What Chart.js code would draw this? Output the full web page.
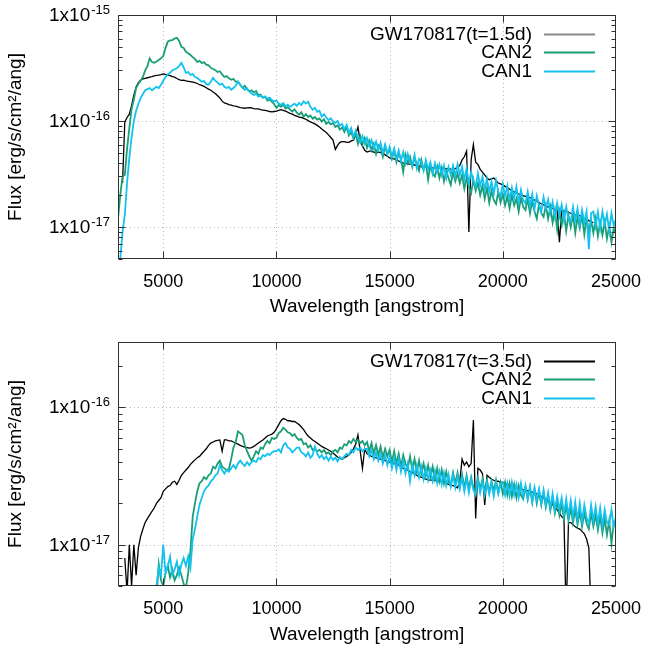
<!DOCTYPE html>
<html>
<head>
<meta charset="utf-8">
<script src="https://cdn.jsdelivr.net/npm/chart.js@4.4.1/dist/chart.umd.min.js"></script>
<style>
  html, body { margin: 0; padding: 0; background: #fff; }
  canvas { display: block; }
</style>
</head>
<body>
<canvas id="topChart" width="647" height="324"></canvas>
<canvas id="bottomChart" width="647" height="324"></canvas>
<script>
// wavelength grid [angstrom], shared by every spectrum (one row = 1000 A)
const wavelength = [
  3000, 3100, 3200, 3300, 3400, 3500, 3600, 3700, 3800, 3900,
  4000, 4100, 4200, 4300, 4400, 4500, 4600, 4700, 4800, 4900,
  5000, 5100, 5200, 5300, 5400, 5500, 5600, 5700, 5800, 5900,
  6000, 6100, 6200, 6300, 6400, 6500, 6600, 6700, 6800, 6900,
  7000, 7100, 7200, 7300, 7400, 7500, 7600, 7700, 7800, 7900,
  8000, 8100, 8200, 8300, 8400, 8500, 8600, 8700, 8800, 8900,
  9000, 9100, 9200, 9300, 9400, 9500, 9600, 9700, 9800, 9900,
  10000, 10100, 10200, 10300, 10400, 10500, 10600, 10700, 10800, 10900,
  11000, 11100, 11200, 11300, 11400, 11500, 11600, 11700, 11800, 11900,
  12000, 12100, 12200, 12300, 12400, 12500, 12600, 12700, 12800, 12900,
  13000, 13100, 13200, 13300, 13400, 13500, 13600, 13700, 13800, 13900,
  14000, 14100, 14200, 14300, 14400, 14500, 14600, 14700, 14800, 14900,
  15000, 15100, 15200, 15300, 15400, 15500, 15600, 15700, 15800, 15900,
  16000, 16100, 16200, 16300, 16400, 16500, 16600, 16700, 16800, 16900,
  17000, 17100, 17200, 17300, 17400, 17500, 17600, 17700, 17800, 17900,
  18000, 18100, 18200, 18300, 18400, 18500, 18600, 18700, 18800, 18900,
  19000, 19100, 19200, 19300, 19400, 19500, 19600, 19700, 19800, 19900,
  20000, 20100, 20200, 20300, 20400, 20500, 20600, 20700, 20800, 20900,
  21000, 21100, 21200, 21300, 21400, 21500, 21600, 21700, 21800, 21900,
  22000, 22100, 22200, 22300, 22400, 22500, 22600, 22700, 22800, 22900,
  23000, 23100, 23200, 23300, 23400, 23500, 23600, 23700, 23800, 23900,
  24000, 24100, 24200, 24300, 24400, 24500, 24600, 24700, 24800, 24900,
  25000
];

// flux in units of 1e-17 erg/s/cm^2/ang
// upper panel, t = 1.5 d
const gw15 = [
  null, null, 2.6, 9.8, 10.8, 11.6, 14, 17.5, 21, 23,
  24.3, 25, 25.3, 25.6, 25.9, 26.2, 26.6, 26.9, 27.1, 27.4,
  27.8, 27.5, 27.3, 26.8, 26.2, 25.9, 25.2, 24.6, 24.2, 24.3,
  23.9, 23.7, 23.5, 23.3, 23.0, 22.6, 22.0, 21.7, 21.2, 20.6,
  20.0, 19.5, 18.8, 18.2, 17.3, 16.5, 15.4, 14.8, 14.6, 14.3,
  14.1, 13.9, 13.8, 13.6, 13.4, 13.3, 13.2, 13.3, 13.4, 13.3,
  13.1, 13.0, 13.0, 12.8, 12.7, 12.6, 12.5, 12.3, 12.2, 12.3,
  12.4, 12.6, 12.8, 12.6, 12.4, 12.1, 11.8, 11.6, 11.3, 11.1,
  10.9, 10.8, 10.6, 10.4, 10.1, 9.8, 9.6, 9.4, 9.1, 8.8,
  8.4, 8.1, 7.8, 7.4, 7.0, 6.6, 5.4, 5.9, 6.3, 6.4,
  6.4, 6.3, 6.3, 6.5, 6.6, 7.4, 8.8, 6.4, 5.8, 5.3,
  5.1, 5.2, 5.2, 5.1, 5.0, 5.1, 5.05, 4.95, 4.8, 4.65,
  4.5, 4.45, 4.4, 4.3, 4.2, 4.1, 4.0, 3.98, 3.95, 3.92,
  3.9, 3.85, 3.8, 3.75, 3.7, 3.72, 3.72, 3.68, 3.65, 3.62,
  3.6, 3.62, 3.62, 3.6, 3.58, 3.56, 3.55, 3.52, 3.5, 3.55,
  3.7, 3.8, 4.3, 4.6, 5.2, 0.9, 4.3, 6.0, 4.1, 3.9,
  3.5, 3.3, 3.1, 2.9, 2.8, 2.85, 2.9, 2.75, 2.6, 2.55,
  2.5, 2.42, 2.35, 2.28, 2.2, 2.15, 2.1, 2.05, 2.0, 1.98,
  1.95, 1.92, 1.9, 1.85, 1.8, 1.75, 1.7, 1.66, 1.62, 1.58,
  1.55, 1.52, 1.5, 1.47, 1.45, 0.72, 1.44, 1.42, 1.4, 1.38,
  1.35, 1.33, 1.3, 1.29, 1.28, 1.24, 1.2, 1.18, 1.15, 1.12,
  1.1, null, null, null, null, null, null, null, null, null,
  null
];
const can2Early = [
  1.2, 2.0, 3.0, 3.1, 5.5, 8.5, 13, 16, 20.5, 22.5,
  24, 26, 30, 33, 39, 36, 35.4, 36.5, 37.7, 39,
  41, 49, 56, 57.5, 58, 60, 61, 57, 50, 48.9,
  45, 43.6, 42, 40, 38.5, 36, 37, 35.3, 35.8, 34,
  33.5, 31.8, 31, 30.2, 29, 29.5, 27.5, 26, 26.5, 25.3,
  24.5, 25, 23.5, 23.5, 22, 20.5, 21.5, 20, 19, 19.5,
  18.6, 19.2, 17.5, 17.8, 16.6, 16.9, 15.6, 15.9, 15.2, 14.4,
  13.3, 14.2, 13.6, 14.3, 13.1, 13.5, 12.8, 12.3, 12.9, 12.0,
  11.5, 12.1, 11.0, 11.6, 10.9, 11.3, 10.5, 10.9, 10.3, 10.6,
  9.9, 10.4, 9.4, 9.8, 9.3, 9.6, 8.8, 9.1, 8.3, 8.7,
  7.9, 8.8, 7.3, 7.9, 6.9, 7.6, 6.1, 7.2, 6.0, 6.9,
  5.6, 6.5, 5.3, 6.1, 4.9, 5.9, 5.5, 4.6, 5.8, 4.9,
  5.4, 4.4, 5.3, 4.1, 5.0, 4.4, 3.3, 4.8, 4.0, 4.6,
  3.7, 4.5, 3.9, 3.4, 4.3, 3.5, 4.0, 2.8, 3.8, 3.2,
  3.0, 3.7, 2.9, 3.6, 2.7, 3.4, 2.9, 2.5, 3.3, 2.7,
  3.2, 2.6, 3.1, 2.3, 2.9, 2.4, 2.1, 2.8, 2.2, 2.6,
  2.0, 2.45, 1.85, 2.35, 1.7, 2.2, 1.8, 1.65, 2.15, 1.7,
  2.05, 1.6, 1.95, 1.5, 2.0, 1.6, 1.85, 1.4, 1.9, 1.55,
  1.45, 1.85, 1.35, 1.75, 1.4, 1.2, 1.65, 1.35, 1.25, 1.6,
  1.2, 1.55, 1.1, 1.45, 0.95, 1.4, 1.05, 1.35, 0.92, 1.3,
  1.0, 1.3, 0.88, 1.25, 0.98, 1.3, 0.85, 1.2, 0.92, 1.15,
  0.88, 1.2, 0.82, 1.1, 0.84, 1.12, 0.78, 1.02, 0.72, 0.98,
  0.85
];
const can1Early = [
  0.35, 0.5, 0.9, 1.3, 2.6, 4.5, 7, 10, 12.5, 14.5,
  16.5, 18, 19.5, 20, 20.5, 19.5, 20.3, 21, 20.5, 22,
  24, 26, 27.5, 28.5, 30, 30.8, 31.5, 33, 35.4, 32,
  28.5, 29, 27.2, 27.8, 26, 25.5, 24.5, 23.5, 23.8, 22.3,
  22, 23.5, 25.5, 24, 23, 22, 22.5, 21, 20.5, 21,
  19.7, 20.5, 21.5, 23.5, 22, 20.8, 19.7, 20.3, 19, 18.2,
  17.6, 18.1, 17.0, 17.4, 16.6, 17.1, 16.2, 16.6, 15.8, 15.3,
  15.6, 14.6, 14.2, 14.8, 13.8, 14.3, 13.6, 14.1, 14.6, 13.9,
  14.8, 14.2, 15.3, 14.6, 15.2, 13.6, 12.8, 13.3, 12.2, 12.5,
  11.0, 11.6, 10.8, 10.2, 10.6, 9.9, 9.6, 10.0, 9.0, 9.4,
  8.4, 9.2, 7.7, 8.6, 7.1, 8.1, 7.0, 6.3, 7.2, 6.1,
  6.9, 5.8, 6.6, 5.5, 6.4, 5.3, 6.2, 5.0, 6.0, 4.9,
  5.7, 4.6, 5.5, 4.4, 5.3, 4.2, 5.1, 4.0, 4.9, 4.1,
  3.8, 4.8, 3.6, 4.4, 4.1, 3.4, 4.3, 3.5, 4.1, 3.2,
  4.0, 3.3, 3.9, 3.1, 3.8, 2.9, 3.7, 3.1, 3.8, 3.0,
  3.9, 3.1, 3.7, 2.8, 3.6, 2.6, 3.3, 2.7, 2.4, 3.2,
  2.45, 3.0, 2.25, 2.85, 2.15, 2.7, 2.05, 2.75, 2.15, 1.95,
  2.55, 1.95, 2.45, 1.8, 2.35, 1.85, 2.4, 1.72, 2.25, 1.8,
  1.68, 2.15, 1.58, 2.05, 1.48, 1.98, 1.58, 1.4, 1.92, 1.5,
  1.82, 1.35, 1.72, 1.25, 1.68, 1.3, 1.62, 1.15, 1.55, 1.2,
  1.12, 1.55, 1.15, 1.5, 1.05, 1.45, 1.1, 1.4, 0.62, 1.35,
  1.4, 1.02, 1.38, 0.98, 1.4, 1.05, 1.32, 0.92, 1.35, 1.02,
  1.2
];

// lower panel, t = 3.5 d
const gw35 = [
  null, null, null, 0.8, 0.45, 1.0, 0.5, 1.0, 0.6, 0.95,
  1.15, 1.3, 1.45, 1.55, 1.65, 1.75, 1.85, 2.0, 2.1, 2.2,
  2.45, 2.55, 2.65, 2.7, 2.85, 2.9, 2.75, 2.95, 3.2, 3.35,
  3.5, 3.65, 3.85, 4.0, 4.15, 4.3, 4.4, 4.6, 4.8, 5.0,
  5.3, 5.5, 5.6, 5.7, 5.75, 5.8, 4.8, 5.8, 5.8, 5.7,
  5.7, 5.6, 5.5, 5.4, 5.3, 5.2, 5.15, 5.1, 5.05, 5.1,
  5.2, 5.35, 5.5, 5.65, 5.8, 6.0, 6.2, 6.3, 6.4, 6.6,
  7.0, 7.5, 8.0, 8.3, 8.2, 8.0, 8.0, 7.9, 7.9, 7.7,
  7.5, 7.2, 6.9, 6.5, 6.2, 6.0, 5.8, 5.65, 5.5, 5.35,
  5.2, 5.1, 5.0, 4.9, 4.8, 4.65, 4.5, 4.35, 4.25, 4.2,
  4.3, 4.4, 4.5, 4.7, 5.0, 5.4, 6.3, 4.8, 3.6, 5.0,
  4.6, 4.5, 4.4, 4.35, 4.3, 4.25, 4.2, 4.15, 4.1, 4.05,
  4.0, 3.95, 3.9, 3.85, 3.8, 3.7, 3.6, 3.55, 3.5, 3.4,
  3.35, 3.3, 3.2, 3.15, 3.1, 3.05, 3.0, 2.97, 2.95, 2.95,
  2.95, 2.92, 2.9, 2.88, 2.85, 2.8, 2.75, 2.72, 2.7, 2.65,
  2.6, 2.9, 4.2, 3.8, 4.0, 3.7, 3.9, 8.1, 1.55, 3.6,
  3.5, 3.3, 1.95, 3.2, 3.1, 3.0, 2.95, 2.9, 2.9, 2.85,
  2.85, 2.8, 2.75, 2.72, 2.7, 2.65, 2.6, 2.57, 2.55, 2.52,
  2.5, 2.48, 2.45, 2.42, 2.4, 2.35, 2.3, 2.25, 2.2, 2.15,
  2.1, 2.0, 1.95, 1.88, 1.8, 1.7, 1.6, 1.55, 0.3, 1.45,
  1.45, 1.4, 1.35, 1.32, 1.3, 1.25, 1.2, 1.1, 0.95, 0.3,
  null, null, null, null, null, null, null, null, null, null,
  null
];
const can2Late = [
  null, null, null, null, null, null, null, null, null, null,
  null, null, null, null, null, null, null, 0.42, 0.72, 0.55,
  0.5, 0.62, 0.7, 0.58, 0.66, 0.55, 0.6, 0.68, 0.6, 0.52,
  0.48, 0.62, 0.9, 1.6, 2.0, 2.45, 2.8, 2.9, 3.1, 3.0,
  3.2, 3.3, 3.7, 3.6, 3.9, 4.1, 3.7, 3.6, 3.5, 3.55,
  4.2, 5.1, 5.6, 6.7, 6.5, 6.3, 5.3, 4.8, 4.4, 4.1,
  4.4, 4.8, 4.6, 5.1, 5.0, 5.4, 5.7, 5.5, 6.0, 5.9,
  6.0, 6.5, 6.7, 7.1, 6.9, 6.6, 6.5, 6.2, 6.4, 6.0,
  5.8, 5.9, 5.4, 5.5, 5.1, 5.3, 4.9, 5.0, 4.8, 4.9,
  4.7, 4.9, 4.6, 4.7, 4.5, 4.8, 4.9, 4.7, 5.1, 5.0,
  5.4, 5.3, 5.7, 5.5, 5.9, 5.6, 5.8, 5.5, 5.7, 5.3,
  5.6, 4.8, 5.5, 4.6, 5.3, 4.5, 5.2, 4.3, 5.0, 4.4,
  4.9, 4.0, 4.8, 3.9, 4.6, 3.7, 4.5, 3.9, 3.6, 4.4,
  3.5, 4.2, 3.4, 4.1, 3.3, 3.9, 3.2, 3.8, 3.1, 3.7,
  3.0, 3.6, 2.9, 3.5, 2.8, 3.4, 2.85, 2.7, 3.35, 2.8,
  3.35, 2.7, 3.25, 2.6, 3.2, 2.55, 3.1, 2.6, 2.45, 3.05,
  2.55, 3.0, 2.45, 2.95, 2.4, 2.9, 2.45, 2.95, 2.4, 2.85,
  2.35, 2.85, 2.3, 2.8, 2.25, 2.75, 2.2, 2.7, 2.3, 2.15,
  2.65, 2.15, 2.6, 2.05, 2.55, 2.0, 2.45, 1.95, 2.4, 1.88,
  2.28, 1.78, 2.18, 1.7, 2.08, 1.64, 1.98, 1.55, 1.92, 1.5,
  1.85, 1.45, 1.8, 1.4, 1.75, 1.36, 1.7, 1.42, 1.3, 1.7,
  1.36, 1.65, 1.28, 1.6, 1.22, 1.55, 1.18, 1.5, 1.02, 1.45,
  1.4
];
const can1Late = [
  null, null, null, null, null, null, null, null, null, null,
  null, null, null, null, null, null, null, 0.5, 0.68, 0.6,
  1.0, 0.62, 0.7, 0.82, 0.6, 0.66, 0.75, 0.6, 0.72, 0.8,
  0.7, 0.82, 0.68, 1.1, 1.3, 1.6, 1.95, 2.2, 2.45, 2.6,
  2.7, 2.9, 3.0, 3.2, 3.3, 3.8, 3.5, 3.3, 3.5, 3.4,
  3.6, 3.8, 3.6, 3.9, 4.1, 3.9, 3.75, 4.0, 3.8, 4.0,
  4.1, 4.0, 4.3, 4.2, 4.5, 4.4, 4.6, 4.5, 4.7, 4.8,
  4.8, 4.95, 4.7, 5.3, 5.5, 5.1, 5.0, 4.7, 4.9, 5.1,
  5.1, 4.7, 4.6, 4.4, 4.7, 4.3, 4.5, 5.2, 4.6, 4.3,
  4.5, 4.2, 4.4, 4.1, 4.4, 4.15, 4.3, 4.05, 4.35, 4.2,
  4.4, 4.6, 4.5, 4.9, 4.7, 5.1, 4.9, 5.1, 4.8, 5.0,
  5.0, 4.4, 4.9, 4.2, 4.7, 4.1, 4.6, 3.9, 4.5, 3.8,
  4.4, 3.6, 4.3, 3.5, 4.2, 3.4, 4.1, 3.3, 3.9, 2.9,
  3.8, 3.2, 3.8, 3.1, 3.7, 3.0, 3.6, 2.95, 3.5, 2.9,
  3.45, 2.8, 3.4, 2.75, 3.35, 2.7, 3.25, 2.65, 3.2, 2.6,
  3.15, 2.55, 3.1, 2.45, 3.05, 2.4, 3.0, 2.5, 2.3, 2.95,
  2.4, 2.9, 2.3, 2.85, 2.35, 2.8, 2.25, 2.85, 2.35, 2.75,
  2.85, 2.3, 2.8, 2.25, 2.85, 2.3, 2.75, 2.2, 2.8, 2.25,
  2.7, 2.15, 2.65, 2.05, 2.6, 2.1, 2.55, 2.0, 2.5, 1.95,
  2.4, 1.85, 2.35, 1.78, 2.25, 1.8, 2.2, 1.68, 2.15, 1.62,
  2.1, 1.58, 2.05, 1.52, 2.0, 1.48, 1.95, 1.58, 1.42, 1.95,
  1.5, 1.9, 1.42, 1.85, 1.36, 1.8, 1.45, 1.4, 1.8, 1.35,
  1.6
];

// axis ticks
const xTicks = [5000, 10000, 15000, 20000, 25000];
const yMajorTicks = [1, 10, 100];
const yTickExponents = ['-17', '-16', '-15'];
const yMinorTicks = [0.5, 0.6, 0.7, 0.8, 0.9, 2, 3, 4, 5, 6, 7, 8, 9, 20, 30, 40, 50, 60, 70, 80, 90];

const FONT = "'Liberation Sans', Arial, Helvetica, sans-serif";
Chart.defaults.font.family = FONT;
Chart.defaults.color = '#000';

const COLORS = { gw: '#000000', gwKey: '#8a8a8a', can2: '#1a9e77', can1: '#13c2ee' };

// grid, frame, ticks, y labels and the legend, in gnuplot style
const framePlugin = {
  id: 'frame',
  beforeDatasetsDraw(chart) {
    const { ctx, chartArea: a, scales: { x, y } } = chart;
    ctx.save();
    ctx.strokeStyle = '#b8b8b8';
    ctx.lineWidth = 1;
    ctx.setLineDash([1, 3]);
    ctx.beginPath();
    xTicks.forEach(v => {
      if (v <= x.min || v >= x.max) return;
      const px = Math.round(x.getPixelForValue(v)) + 0.5;
      ctx.moveTo(px, a.top);
      ctx.lineTo(px, a.bottom);
    });
    yMajorTicks.forEach(v => {
      if (v <= y.min || v >= y.max) return;
      const py = Math.round(y.getPixelForValue(v)) + 0.5;
      ctx.moveTo(a.left, py);
      ctx.lineTo(a.right, py);
    });
    ctx.stroke();
    ctx.restore();
  },
  afterDraw(chart) {
    const { ctx, chartArea: a, scales: { x, y } } = chart;
    const L = Math.round(a.left) + 0.5, R = Math.round(a.right) - 0.5;
    const T = Math.round(a.top) + 0.5, B = Math.round(a.bottom) - 0.5;
    ctx.save();
    ctx.strokeStyle = '#303030';
    ctx.lineWidth = 1;
    ctx.strokeRect(L, T, R - L, B - T);

    ctx.beginPath();
    xTicks.forEach(v => {
      const px = Math.min(Math.round(x.getPixelForValue(v)) + 0.5, R);
      ctx.moveTo(px, B); ctx.lineTo(px, B - 7);
      ctx.moveTo(px, T); ctx.lineTo(px, T + 7);
    });
    const yTick = (v, len) => {
      if (v < y.min || v > y.max) return;
      const py = Math.round(y.getPixelForValue(v)) + 0.5;
      ctx.moveTo(L, py); ctx.lineTo(L + len, py);
      ctx.moveTo(R, py); ctx.lineTo(R - len, py);
    };
    yMajorTicks.forEach(v => yTick(v, 7));
    yMinorTicks.forEach(v => yTick(v, 4));
    ctx.stroke();

    // y tick labels: 1x10^n
    ctx.fillStyle = '#000';
    ctx.textAlign = 'right';
    ctx.textBaseline = 'alphabetic';
    yMajorTicks.forEach((v, i) => {
      if (v < y.min || v > y.max) return;
      const py = y.getPixelForValue(v);
      ctx.font = '13px ' + FONT;
      const ew = ctx.measureText(yTickExponents[i]).width;
      ctx.fillText(yTickExponents[i], a.left - 8, py - 1);
      ctx.font = '19px ' + FONT;
      ctx.fillText('1x10', a.left - 9 - ew, py + 6);
    });

    // legend: right-aligned text, sample line to the right
    ctx.font = '19px ' + FONT;
    ctx.lineWidth = 2;
    chart.data.datasets.forEach((ds, i) => {
      const cy = a.top + 18.5 + i * 18.7;
      ctx.fillStyle = '#000';
      ctx.textBaseline = 'middle';
      ctx.fillText(ds.label, 532, cy + 1);
      ctx.strokeStyle = ds.legendColor;
      ctx.beginPath();
      ctx.moveTo(544, Math.round(cy) + 0.5);
      ctx.lineTo(595, Math.round(cy) + 0.5);
      ctx.stroke();
    });
    ctx.restore();
  }
};

function makeChart(id, cfg) {
  const datasets = cfg.series.map(s => ({
    label: s.label,
    data: wavelength.map((w, i) => ({ x: w, y: s.values[i] })),
    borderColor: s.color,
    legendColor: s.legendColor || s.color,
    borderWidth: s.width,
    pointRadius: 0,
    tension: 0,
    fill: false,
    order: s.order,
    clip: 0
  }));

  return new Chart(document.getElementById(id), {
    type: 'line',
    data: { datasets },
    options: {
      responsive: false,
      devicePixelRatio: 1,
      animation: false,
      events: [],
      layout: { padding: { left: 0, right: 31, top: cfg.top, bottom: 0 } },
      plugins: { legend: { display: false }, tooltip: { enabled: false } },
      scales: {
        x: {
          type: 'linear',
          min: 3000,
          max: 25000,
          afterBuildTicks: s => { s.ticks = xTicks.map(v => ({ value: v })); },
          afterFit: s => {
            s.height = cfg.xAxisHeight;
            // don't let the edge labels push the plot area in
            s.paddingLeft = 0;
            s.paddingRight = 0;
          },
          grid: { display: false, drawTicks: false },
          border: { display: false },
          ticks: {
            color: '#000', font: { size: 18 }, padding: cfg.tickPad,
            maxRotation: 0, autoSkip: false, callback: v => String(v)
          },
          title: {
            display: true, text: 'Wavelength [angstrom]', color: '#000',
            font: { size: 19 }, padding: { top: 0, bottom: cfg.titlePad }
          }
        },
        y: {
          type: 'logarithmic',
          min: 0.5,
          max: cfg.yMax,
          afterFit: s => { s.width = 118; },
          grid: { display: false, drawTicks: false },
          border: { display: false },
          ticks: { display: false },
          title: {
            display: true, text: 'Flux [erg/s/cm\u00B2/ang]', color: '#000',
            font: { size: 19 }, padding: { top: 4, bottom: 0 }
          }
        }
      }
    },
    plugins: [framePlugin]
  });
}

makeChart('topChart', {
  top: 15, xAxisHeight: 65, tickPad: 12, titlePad: 6, yMax: 100,
  series: [
    { label: 'GW170817(t=1.5d)', values: gw15, color: COLORS.gw, legendColor: COLORS.gwKey, width: 1.3, order: 3 },
    { label: 'CAN2', values: can2Early, color: COLORS.can2, width: 1.8, order: 2 },
    { label: 'CAN1', values: can1Early, color: COLORS.can1, width: 1.8, order: 1 }
  ]
});

makeChart('bottomChart', {
  top: 18, xAxisHeight: 62, tickPad: 12, titlePad: 2, yMax: 30,
  series: [
    { label: 'GW170817(t=3.5d)', values: gw35, color: COLORS.gw, width: 1.3, order: 3 },
    { label: 'CAN2', values: can2Late, color: COLORS.can2, width: 1.8, order: 2 },
    { label: 'CAN1', values: can1Late, color: COLORS.can1, width: 1.8, order: 1 }
  ]
});
</script>
</body>
</html>
